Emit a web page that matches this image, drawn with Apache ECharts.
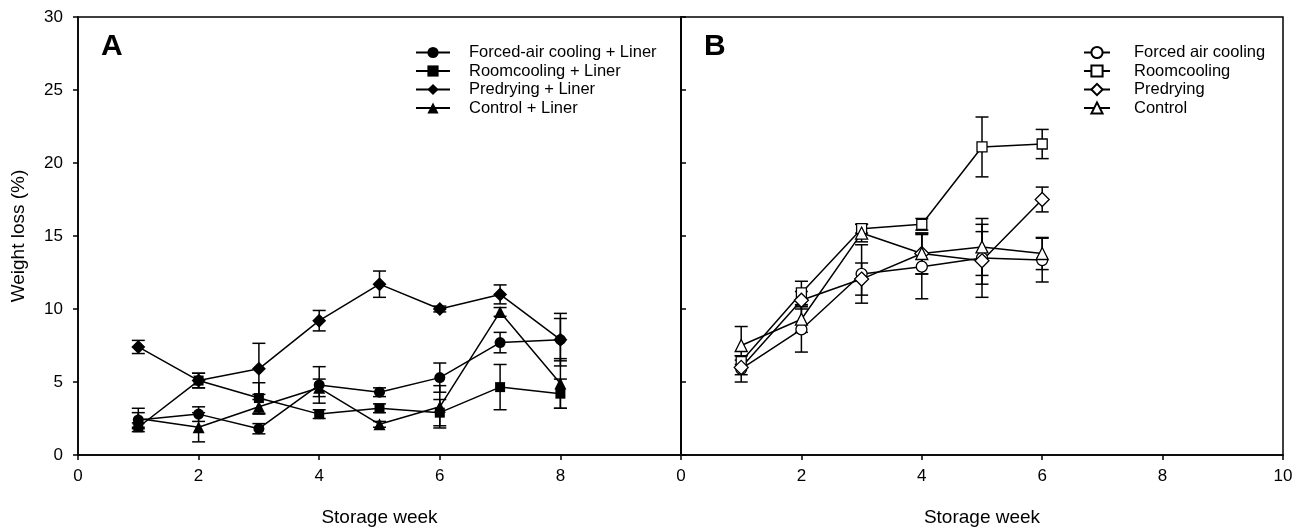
<!DOCTYPE html>
<html>
<head>
<meta charset="utf-8">
<script src="https://cdn.jsdelivr.net/npm/echarts@6/dist/echarts.min.js"></script>
<style>
  body { margin: 0; background: #fff; }
  #main { width: 1307px; height: 529px; }
</style>
</head>
<body>
<div id="main"></div>
<script>
// weeks
var weeksA = [1, 2, 3, 4, 5, 6, 7, 8];
var weeksB = [1, 2, 3, 4, 5, 6];
var xTicks = [0, 2, 4, 6, 8, 10];
var yTicks = [0, 5, 10, 15, 20, 25, 30];

// panel A (with liner) - mean and error
var forcedLiner = [2.4, 2.8, 1.8, 4.8, 4.3, 5.3, 7.7, 7.9];
var forcedLinerErr = [0.5, 0.5, 0.35, 1.25, 0.3, 1.0, 0.7, 1.45];
var roomLiner = [1.9, 5.1, 3.9, 2.8, 3.2, 2.9, 4.65, 4.2];
var roomLinerErr = [0.3, 0.5, 1.05, 0.3, 0.3, 0.9, 1.55, 1.0];
var predryLiner = [7.4, 5.1, 5.9, 9.2, 11.7, 10.0, 11.0, 7.9];
var predryLinerErr = [0.45, 0.5, 1.75, 0.7, 0.9, 0.2, 0.65, 1.8];
var controlLiner = [2.5, 1.9, 3.3, 4.6, 2.1, 3.3, 9.8, 4.9];
var controlLinerErr = [0.7, 1.0, 0.5, 0.6, 0.2, 1.45, 0.3, 1.7];

// panel B (without liner)
var forced = [5.9, 8.6, 12.4, 12.9, 13.5, 13.35];
var forcedErr = [0.9, 1.55, 2.0, 2.2, 1.8, 1.5];
var room = [6.4, 11.1, 15.5, 15.8, 21.1, 21.3];
var roomErr = [0.4, 0.8, 0.3, 0.4, 2.05, 1.0];
var predry = [6.0, 10.6, 12.05, 13.8, 13.3, 17.5];
var predryErr = [0.5, 0.6, 1.1, 1.4, 2.5, 0.85];
var control = [7.5, 9.3, 15.2, 13.8, 14.25, 13.8];
var controlErr = [1.3, 0.9, 0.6, 1.4, 1.95, 1.1];

var font = 'Liberation Sans';
var myChart = echarts.init(document.getElementById('main'));

function pts(xs, ys) {
  return xs.map(function (x, i) { return [x, ys[i]]; });
}

function errSeries(idx, xs, ys, es) {
  return {
    type: 'custom',
    xAxisIndex: idx,
    yAxisIndex: idx,
    silent: true,
    z: 1,
    data: xs.map(function (x, i) { return [x, ys[i] - es[i], ys[i] + es[i]]; }),
    encode: { x: 0, y: [1, 2] },
    renderItem: function (params, api) {
      var lo = api.coord([api.value(0), api.value(1)]);
      var hi = api.coord([api.value(0), api.value(2)]);
      var w = 6.5;
      var st = { stroke: '#000', lineWidth: 1.5 };
      return {
        type: 'group',
        children: [
          { type: 'line', shape: { x1: lo[0], y1: lo[1], x2: hi[0], y2: hi[1] }, style: st },
          { type: 'line', shape: { x1: lo[0] - w, y1: lo[1], x2: lo[0] + w, y2: lo[1] }, style: st },
          { type: 'line', shape: { x1: hi[0] - w, y1: hi[1], x2: hi[0] + w, y2: hi[1] }, style: st }
        ]
      };
    }
  };
}

function lineSeries(idx, name, xs, ys, symbol, size, open) {
  return {
    name: name,
    type: 'line',
    xAxisIndex: idx,
    yAxisIndex: idx,
    data: pts(xs, ys),
    symbol: symbol,
    symbolSize: size,
    showAllSymbol: true,
    z: 3,
    lineStyle: { color: '#000', width: 1.5 },
    itemStyle: { color: open ? '#fff' : '#000', borderColor: '#000', borderWidth: open ? 1.3 : 0, opacity: 1 },
    emphasis: { disabled: true }
  };
}

function xAxis(idx, showTen) {
  return {
    type: 'value', gridIndex: idx, min: 0, max: 10, interval: 2,
    name: 'Storage week', nameLocation: 'middle', nameGap: 53,
    nameTextStyle: { fontFamily: font, fontSize: 19, color: '#000' },
    axisLine: { lineStyle: { color: '#000', width: 1.5 } },
    axisTick: { show: true, length: 5, lineStyle: { color: '#000', width: 1.5 } },
    axisLabel: {
      fontFamily: font, fontSize: 17, color: '#000', margin: 13,
      formatter: function (v) { return (!showTen && v === 10) ? '' : String(v); }
    },
    splitLine: { show: false }
  };
}

var legendNamesA = ['Forced-air cooling + Liner', 'Roomcooling + Liner', 'Predrying + Liner', 'Control + Liner'];
var legendNamesB = ['Forced air cooling', 'Roomcooling', 'Predrying', 'Control'];

function legendText(pad) {
  return { fontFamily: font, fontSize: 16.5, color: '#000', padding: [0, 0, 0, pad] };
}

var option = {
  animation: false,
  backgroundColor: '#fff',
  grid: [
    { left: 78, top: 17, width: 603, bottom: 74, outerBoundsMode: 'none', show: true, borderColor: '#000', borderWidth: 1.5 },
    { left: 681, top: 17, width: 602, bottom: 74, outerBoundsMode: 'none', show: true, borderColor: '#000', borderWidth: 1.5 }
  ],
  xAxis: [xAxis(0, false), xAxis(1, true)],
  yAxis: [
    {
      type: 'value', gridIndex: 0, min: 0, max: 30, interval: 5,
      name: 'Weight loss (%)', nameLocation: 'middle', nameGap: 50,
      nameTextStyle: { fontFamily: font, fontSize: 19, color: '#000' },
      axisLine: { show: true, lineStyle: { color: '#000', width: 1.5 } },
      axisTick: { show: true, length: 5, lineStyle: { color: '#000', width: 1.5 } },
      axisLabel: { fontFamily: font, fontSize: 17, color: '#000', margin: 15 },
      splitLine: { show: false }
    },
    {
      type: 'value', gridIndex: 1, min: 0, max: 30, interval: 5,
      axisLine: { show: true, lineStyle: { color: '#000', width: 1.5 } },
      axisTick: { show: true, inside: true, length: 5, lineStyle: { color: '#000', width: 1.5 } },
      axisLabel: { show: false },
      splitLine: { show: false }
    }
  ],
  legend: [
    {
      data: legendNamesA, left: 410, top: 39, orient: 'vertical', selectedMode: false,
      itemGap: 1.5, itemWidth: 34, itemHeight: 14, textStyle: legendText(14)
    },
    {
      data: legendNamesB, left: 1078, top: 39, orient: 'vertical', selectedMode: false,
      itemGap: 1.5, itemWidth: 26, itemHeight: 14, textStyle: legendText(19)
    }
  ],
  graphic: [
    { type: 'text', left: 101, top: 32, style: { text: 'A', fontFamily: font, fontWeight: 'bold', fontSize: 30, fill: '#000' } },
    { type: 'text', left: 704, top: 32, style: { text: 'B', fontFamily: font, fontWeight: 'bold', fontSize: 30, fill: '#000' } }
  ],
  series: [
    errSeries(0, weeksA, forcedLiner, forcedLinerErr),
    errSeries(0, weeksA, roomLiner, roomLinerErr),
    errSeries(0, weeksA, predryLiner, predryLinerErr),
    errSeries(0, weeksA, controlLiner, controlLinerErr),
    lineSeries(0, legendNamesA[0], weeksA, forcedLiner, 'circle', 11, false),
    lineSeries(0, legendNamesA[1], weeksA, roomLiner, 'rect', 10, false),
    lineSeries(0, legendNamesA[2], weeksA, predryLiner, 'diamond', 14, false),
    lineSeries(0, legendNamesA[3], weeksA, controlLiner, 'triangle', 12, false),
    errSeries(1, weeksB, forced, forcedErr),
    errSeries(1, weeksB, room, roomErr),
    errSeries(1, weeksB, predry, predryErr),
    errSeries(1, weeksB, control, controlErr),
    lineSeries(1, legendNamesB[0], weeksB, forced, 'circle', 11, true),
    lineSeries(1, legendNamesB[1], weeksB, room, 'rect', 10, true),
    lineSeries(1, legendNamesB[2], weeksB, predry, 'diamond', 14, true),
    lineSeries(1, legendNamesB[3], weeksB, control, 'triangle', 12, true)
  ]
};

myChart.setOption(option);
</script>
</body>
</html>
